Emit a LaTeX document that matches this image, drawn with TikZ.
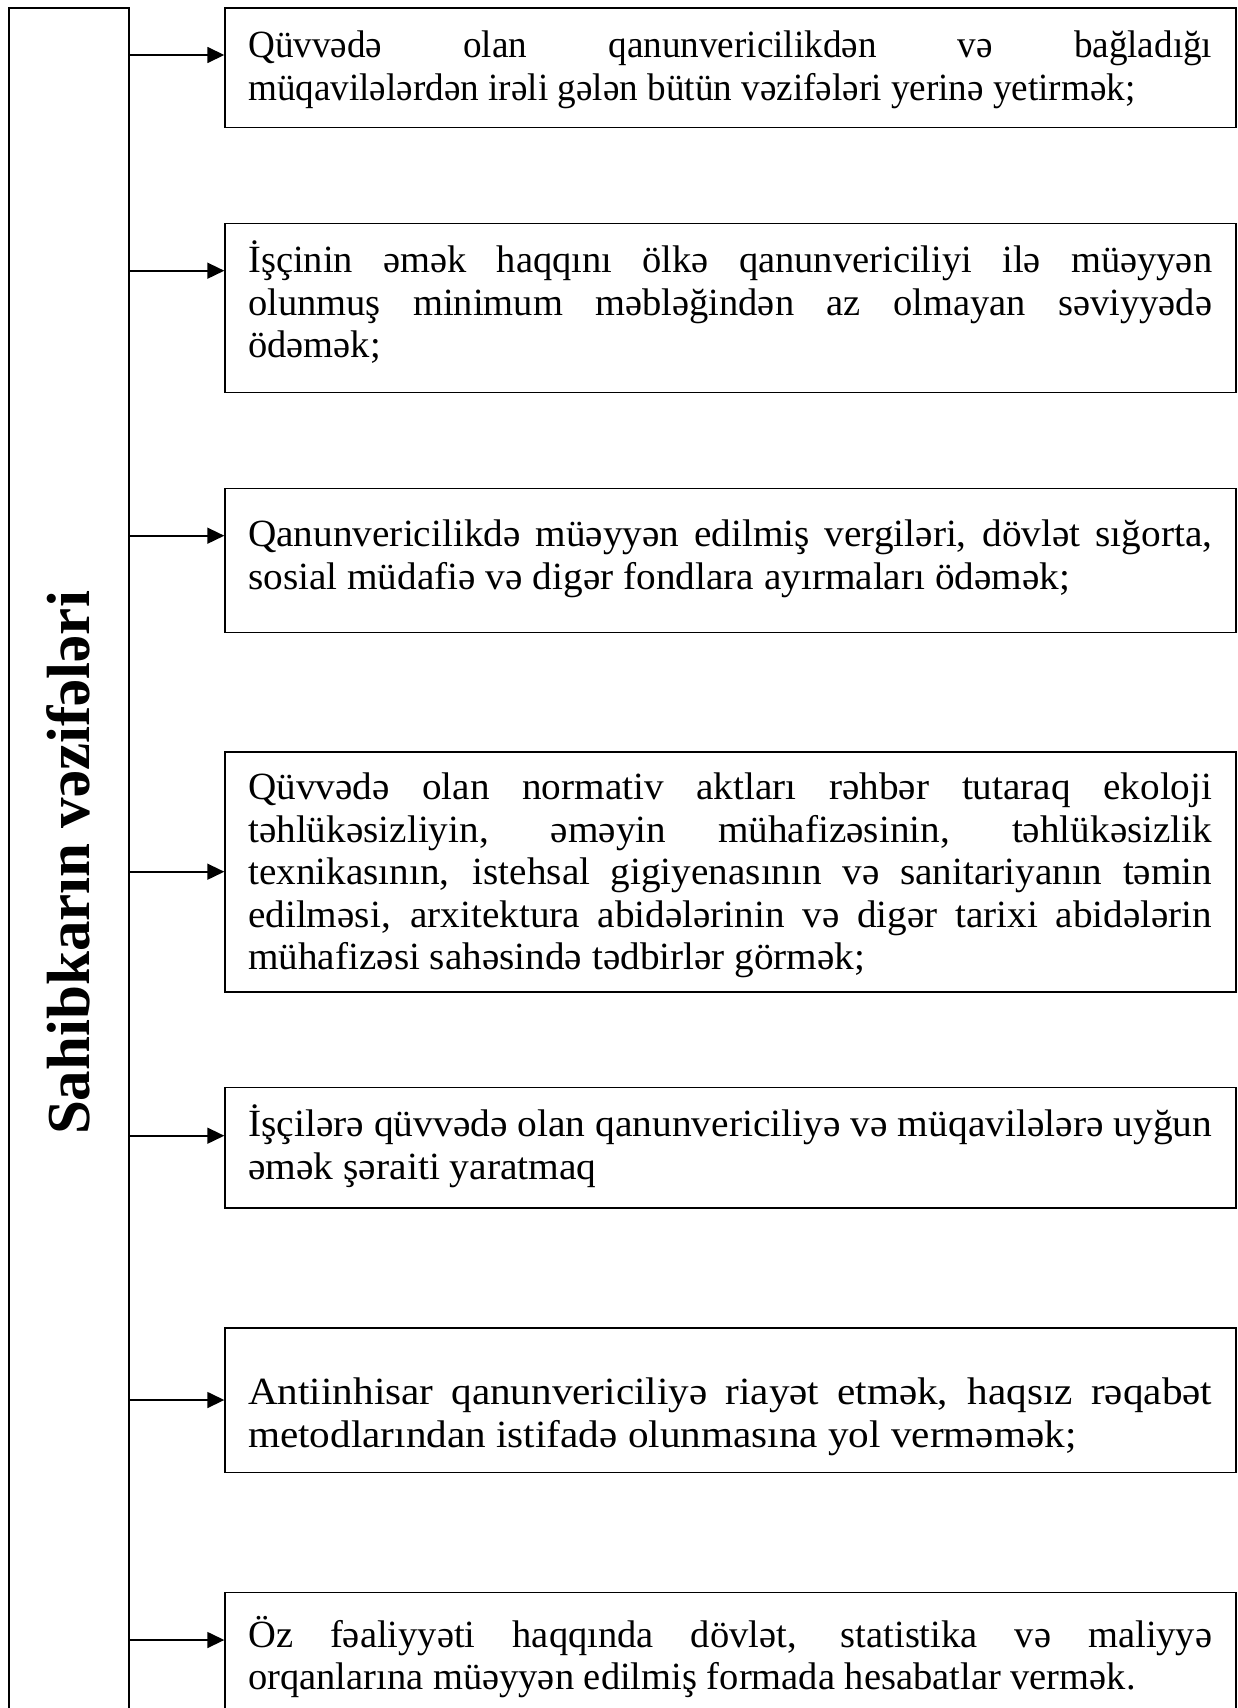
\documentclass[tikz,border=0pt]{standalone}
\usepackage{fontspec}
\setmainfont{Liberation Serif}
\usetikzlibrary{arrows.meta}
\newcommand\boxfont{\fontsize{38.5bp}{42.5bp}\selectfont\hyphenpenalty=10000\relax\tolerance=10000\relax}
\newcommand\sidetitlefont{\fontsize{61bp}{70bp}\selectfont\bfseries}
\newcommand\firstlinestrut{\rule{0pt}{34bp}}
\newcommand\widen[1]{\addfontfeatures{FakeStretch=#1}}
\begin{document}
\begin{tikzpicture}[x=1bp,y=1bp,
  frame/.style={draw, line width=1.6bp, inner sep=0pt, anchor=north west},
  txt/.style={anchor=north west, inner sep=0pt, text width=964bp, align=justify,
    font=\boxfont},
  conn/.style={line width=1.6bp, -{Triangle[length=17bp,width=16bp]}}]
\useasboundingbox (0,0) rectangle (1237,-1708);
\clip (0,0) rectangle (1237,-1708);
\fill[white] (0,0) rectangle (1237,-1708);
% side box
\node[frame, minimum width=120bp, minimum height=1780bp] (side) at (8.3,-7.3) {};
\node[rotate=90, font=\sidetitlefont] (title) at (68,-863) {Sahibkarın vəzifələri};
% boxes
\node[frame, minimum width=1010.7bp, minimum height=119.4bp] (b1) at (224.3,-7.3) {};
\node[frame, minimum width=1010.7bp, minimum height=169bp] (b2) at (224.3,-222.7) {};
\node[frame, minimum width=1010.7bp, minimum height=144bp] (b3) at (224.3,-487.7) {};
\node[frame, minimum width=1010.7bp, minimum height=240bp] (b4) at (224.3,-751) {};
\node[frame, minimum width=1010.7bp, minimum height=120.6bp] (b5) at (224.3,-1086.7) {};
\node[frame, minimum width=1010.7bp, minimum height=144.4bp] (b6) at (224.3,-1327.3) {};
\node[frame, minimum width=1010.7bp, minimum height=200bp] (b7) at (224.3,-1591.7) {};
% texts
\node[txt] (t1) at (248,-23.3) {\widen{0.965}\firstlinestrut Qüvvədə olan qanunvericilikdən və bağladığı\linebreak müqavilələrdən irəli gələn bütün vəzifələri yerinə yetirmək;};
\node[txt] (t2) at (248,-238.7) {\firstlinestrut İşçinin əmək haqqını ölkə qanunvericiliyi ilə müəyyən\linebreak olunmuş minimum məbləğindən az olmayan səviyyədə\linebreak ödəmək;};
\node[txt] (t3) at (248,-512.7) {\widen{1.02}\firstlinestrut Qanunvericilikdə müəyyən edilmiş vergiləri, dövlət sığorta,\linebreak sosial müdafiə və digər fondlara ayırmaları ödəmək;};
\node[txt] (t4) at (248,-765.5) {\widen{1.018}\firstlinestrut Qüvvədə olan normativ aktları rəhbər tutaraq ekoloji\linebreak təhlükəsizliyin, əməyin mühafizəsinin, təhlükəsizlik\linebreak texnikasının, istehsal gigiyenasının və sanitariyanın təmin\linebreak edilməsi, arxitektura abidələrinin və digər tarixi abidələrin\linebreak mühafizəsi sahəsində tədbirlər görmək;};
\node[txt] (t5) at (248,-1102.7) {\widen{1.025}\firstlinestrut İşçilərə qüvvədə olan qanunvericiliyə və müqavilələrə uyğun\linebreak əmək şəraiti yaratmaq};
\node[txt] (t6) at (248,-1370.3) {\widen{1.07}\firstlinestrut Antiinhisar qanunvericiliyə riayət etmək, haqsız rəqabət\linebreak metodlarından istifadə olunmasına yol verməmək;};
\node[txt] (t7) at (248,-1613) {\parfillskip=0pt\relax\firstlinestrut Öz fəaliyyəti haqqında dövlət, statistika və maliyyə\linebreak orqanlarına müəyyən edilmiş formada hesabatlar vermək.};
% arrow levels
\coordinate (a1) at (0,-55);
\coordinate (a2) at (0,-270.7);
\coordinate (a3) at (0,-535.7);
\coordinate (a4) at (0,-871.7);
\coordinate (a5) at (0,-1135.7);
\coordinate (a6) at (0,-1400);
\coordinate (a7) at (0,-1640);
\foreach \i in {1,...,7}{
  \draw[conn] (side.east |- a\i) -- (b\i.west |- a\i);
}
\end{tikzpicture}
\end{document}
